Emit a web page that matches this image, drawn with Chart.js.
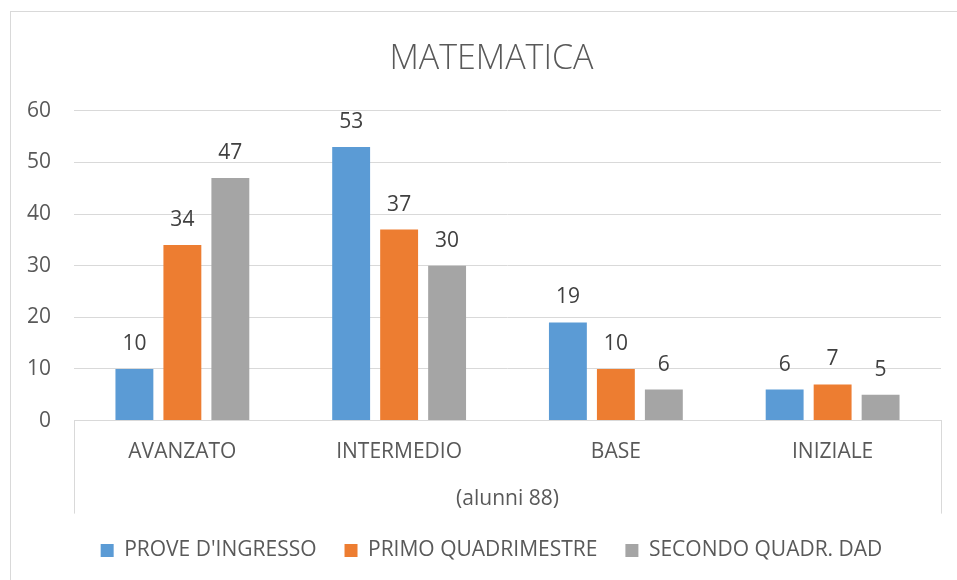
<!DOCTYPE html>
<html>
<head>
<meta charset="utf-8">
<script src="https://cdn.jsdelivr.net/npm/chart.js@4"></script>
<style>
html,body{margin:0;padding:0;background:#fff;overflow:hidden;}
#wrap{width:957px;height:580px;position:relative;}
</style>
</head>
<body>
<div id="wrap"><canvas id="c" width="957" height="580"></canvas></div>
<script>
const categories = ['AVANZATO', 'INTERMEDIO', 'BASE', 'INIZIALE'];
const seriesNames = ["PROVE D'INGRESSO", 'PRIMO QUADRIMESTRE', 'SECONDO QUADR. DAD'];
const proveIngresso = [10, 53, 19, 6];
const primoQuadrimestre = [34, 37, 10, 7];
const secondoQuadr = [47, 30, 6, 5];
const yTicks = [0, 10, 20, 30, 40, 50, 60];
const chartTitle = 'MATEMATICA';
const xTitle = '(alunni 88)';

const colors = ['#5B9BD5', '#ED7D31', '#A5A5A5'];
const FONT = "'Open Sans', sans-serif";
const TXT = '#595959';
const FS = 21;

const framePlugin = {
  id: 'frame',
  beforeDraw(chart) {
    const ctx = chart.ctx;
    ctx.save();
    ctx.strokeStyle = '#D9D9D9';
    ctx.lineWidth = 1;
    ctx.strokeRect(10.5, 11.5, 1000, 1000);
    ctx.restore();
  },
  afterDraw(chart) {
    const ctx = chart.ctx;
    const a = chart.chartArea;
    ctx.save();
    ctx.strokeStyle = '#D9D9D9';
    ctx.lineWidth = 1;
    ctx.beginPath();
    [a.left, a.right].forEach(x => {
      const px = Math.round(x) + 0.5;
      ctx.moveTo(px, a.bottom);
      ctx.lineTo(px, a.bottom + 93);
    });
    ctx.stroke();
    ctx.restore();
  }
};

const labelPlugin = {
  id: 'barLabels',
  afterDatasetsDraw(chart) {
    const ctx = chart.ctx;
    ctx.save();
    ctx.font = FS + "px " + FONT;
    ctx.fillStyle = '#404040';
    ctx.textAlign = 'center';
    ctx.textBaseline = 'middle';
    chart.data.datasets.forEach((ds, di) => {
      const meta = chart.getDatasetMeta(di);
      meta.data.forEach((bar, i) => {
        ctx.fillText(String(ds.data[i]), bar.x, bar.y - 25);
      });
    });
    ctx.restore();
  }
};

new Chart(document.getElementById('c'), {
  type: 'bar',
  data: {
    labels: categories,
    datasets: [
      { label: seriesNames[0], data: proveIngresso, backgroundColor: colors[0], borderWidth: 0 },
      { label: seriesNames[1], data: primoQuadrimestre, backgroundColor: colors[1], borderWidth: 0 },
      { label: seriesNames[2], data: secondoQuadr, backgroundColor: colors[2], borderWidth: 0 }
    ]
  },
  options: {
    responsive: false,
    animation: false,
    layout: { padding: { left: 26, right: 0, top: 0, bottom: 9 } },
    datasets: { bar: { categoryPercentage: 0.664, barPercentage: 0.79 } },
    plugins: {
      title: {
        display: true,
        text: chartTitle,
        color: TXT,
        font: { family: FONT, size: 34, weight: '300' },
        padding: { top: 39, bottom: 31 }
      },
      legend: {
        position: 'bottom',
        labels: {
          color: TXT,
          font: { family: FONT, size: FS },
          boxWidth: 13,
          boxHeight: 13,
          padding: 28
        }
      },
      tooltip: { enabled: false }
    },
    scales: {
      x: {
        grid: { display: false, drawTicks: false, tickLength: 0 },
        border: { display: true, color: '#D9D9D9' },
        ticks: { color: TXT, font: { family: FONT, size: FS }, padding: 19 },
        title: {
          display: true,
          text: xTitle,
          color: TXT,
          font: { family: FONT, size: FS },
          padding: { top: 3, bottom: 0 }
        }
      },
      y: {
        min: 0,
        max: 60,
        afterBuildTicks(scale) { scale.ticks = yTicks.map(v => ({ value: v })); },
        afterFit(scale) { scale.width = 48; },
        grid: { color: '#D9D9D9', drawTicks: false },
        border: { display: false },
        ticks: { color: TXT, font: { family: FONT, size: FS }, padding: 23 }
      },
      yRight: {
        position: 'right',
        display: true,
        afterFit(scale) { scale.width = 16; },
        grid: { display: false, drawTicks: false },
        border: { display: false },
        ticks: { display: false }
      }
    }
  },
  plugins: [framePlugin, labelPlugin]
});
</script>
</body>
</html>
